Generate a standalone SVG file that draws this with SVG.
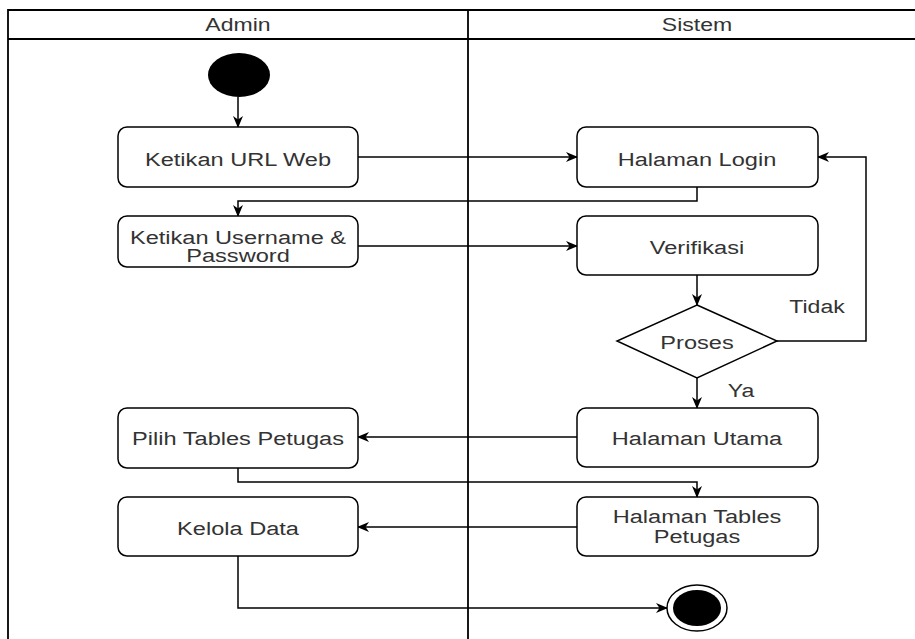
<svg xmlns="http://www.w3.org/2000/svg" width="915" height="639" viewBox="0 0 915 639">
<defs>
<style>
.box{fill:#fff;stroke:#000;stroke-width:1.5}
.lane{fill:none;stroke:#000;stroke-width:1.8}
.ln{fill:none;stroke:#000;stroke-width:1.5}
.t{font-family:"Liberation Sans",Arial,sans-serif;font-size:18px;fill:#333;text-anchor:middle}
</style>
<marker id="ar" viewBox="0 0 12 10" refX="11" refY="5" markerWidth="12" markerHeight="10" markerUnits="userSpaceOnUse" orient="auto">
<path d="M0,0 L12,5 L0,10 L3.5,5 z" fill="#000"/>
</marker>
</defs>
<rect width="915" height="639" fill="#fff"/>
<g id="swimlanes">
<path class="lane" d="M8,639 V10 H926 M8,39 H926 M468,10 V639"/>
<text class="t" transform="translate(238,31) scale(1.28,1)">Admin</text>
<text class="t" transform="translate(697,31) scale(1.28,1)">Sistem</text>
</g>
<g id="connectors">
<path class="ln" d="M238,97 V127" marker-end="url(#ar)"/>
<path class="ln" d="M358,157 H577" marker-end="url(#ar)"/>
<path class="ln" d="M697,187 V201 H238 V216" marker-end="url(#ar)"/>
<path class="ln" d="M358,246 H577" marker-end="url(#ar)"/>
<path class="ln" d="M697,275 V305" marker-end="url(#ar)"/>
<path class="ln" d="M777,341 H866 V157 H818" marker-end="url(#ar)"/>
<path class="ln" d="M697,378 V408" marker-end="url(#ar)"/>
<path class="ln" d="M577,437 H358" marker-end="url(#ar)"/>
<path class="ln" d="M238,468 V482 H697 V497" marker-end="url(#ar)"/>
<path class="ln" d="M577,527 H358" marker-end="url(#ar)"/>
<path class="ln" d="M238,556 V608 H667" marker-end="url(#ar)"/>
<text class="t" transform="translate(817,313) scale(1.28,1)">Tidak</text>
<text class="t" transform="translate(741,397) scale(1.28,1)">Ya</text>
</g>
<g id="start"><ellipse cx="239" cy="75" rx="31" ry="22" fill="#000"/></g>
<g id="ketikan-url"><rect class="box" x="118" y="127" width="240" height="60" rx="9"/><text class="t" transform="translate(238,166) scale(1.31,1)">Ketikan URL Web</text></g>
<g id="ketikan-username"><rect class="box" x="118" y="216" width="240" height="51" rx="9"/><text class="t" transform="translate(238,244) scale(1.31,1)">Ketikan Username &amp;</text><text class="t" transform="translate(238,262) scale(1.31,1)">Password</text></g>
<g id="halaman-login"><rect class="box" x="577" y="127" width="241" height="60" rx="9"/><text class="t" transform="translate(697,166) scale(1.31,1)">Halaman Login</text></g>
<g id="verifikasi"><rect class="box" x="577" y="216" width="241" height="59" rx="9"/><text class="t" transform="translate(697,254) scale(1.31,1)">Verifikasi</text></g>
<g id="proses"><path class="box" d="M697,305 L777,341 L697,378 L617,341 Z"/><text class="t" transform="translate(697,349) scale(1.31,1)">Proses</text></g>
<g id="halaman-utama"><rect class="box" x="577" y="408" width="241" height="59" rx="9"/><text class="t" transform="translate(697,445) scale(1.31,1)">Halaman Utama</text></g>
<g id="pilih-tables"><rect class="box" x="118" y="408" width="240" height="60" rx="9"/><text class="t" transform="translate(238,445) scale(1.31,1)">Pilih Tables Petugas</text></g>
<g id="halaman-tables"><rect class="box" x="577" y="497" width="241" height="59" rx="9"/><text class="t" transform="translate(697,523) scale(1.31,1)">Halaman Tables</text><text class="t" transform="translate(697,543) scale(1.31,1)">Petugas</text></g>
<g id="kelola-data"><rect class="box" x="118" y="497" width="240" height="59" rx="9"/><text class="t" transform="translate(238,535) scale(1.31,1)">Kelola Data</text></g>
<g id="end"><ellipse cx="697" cy="608" rx="30" ry="23" fill="#fff" stroke="#000" stroke-width="1.5"/><ellipse cx="697" cy="608" rx="24" ry="18" fill="#000"/></g>
</svg>
